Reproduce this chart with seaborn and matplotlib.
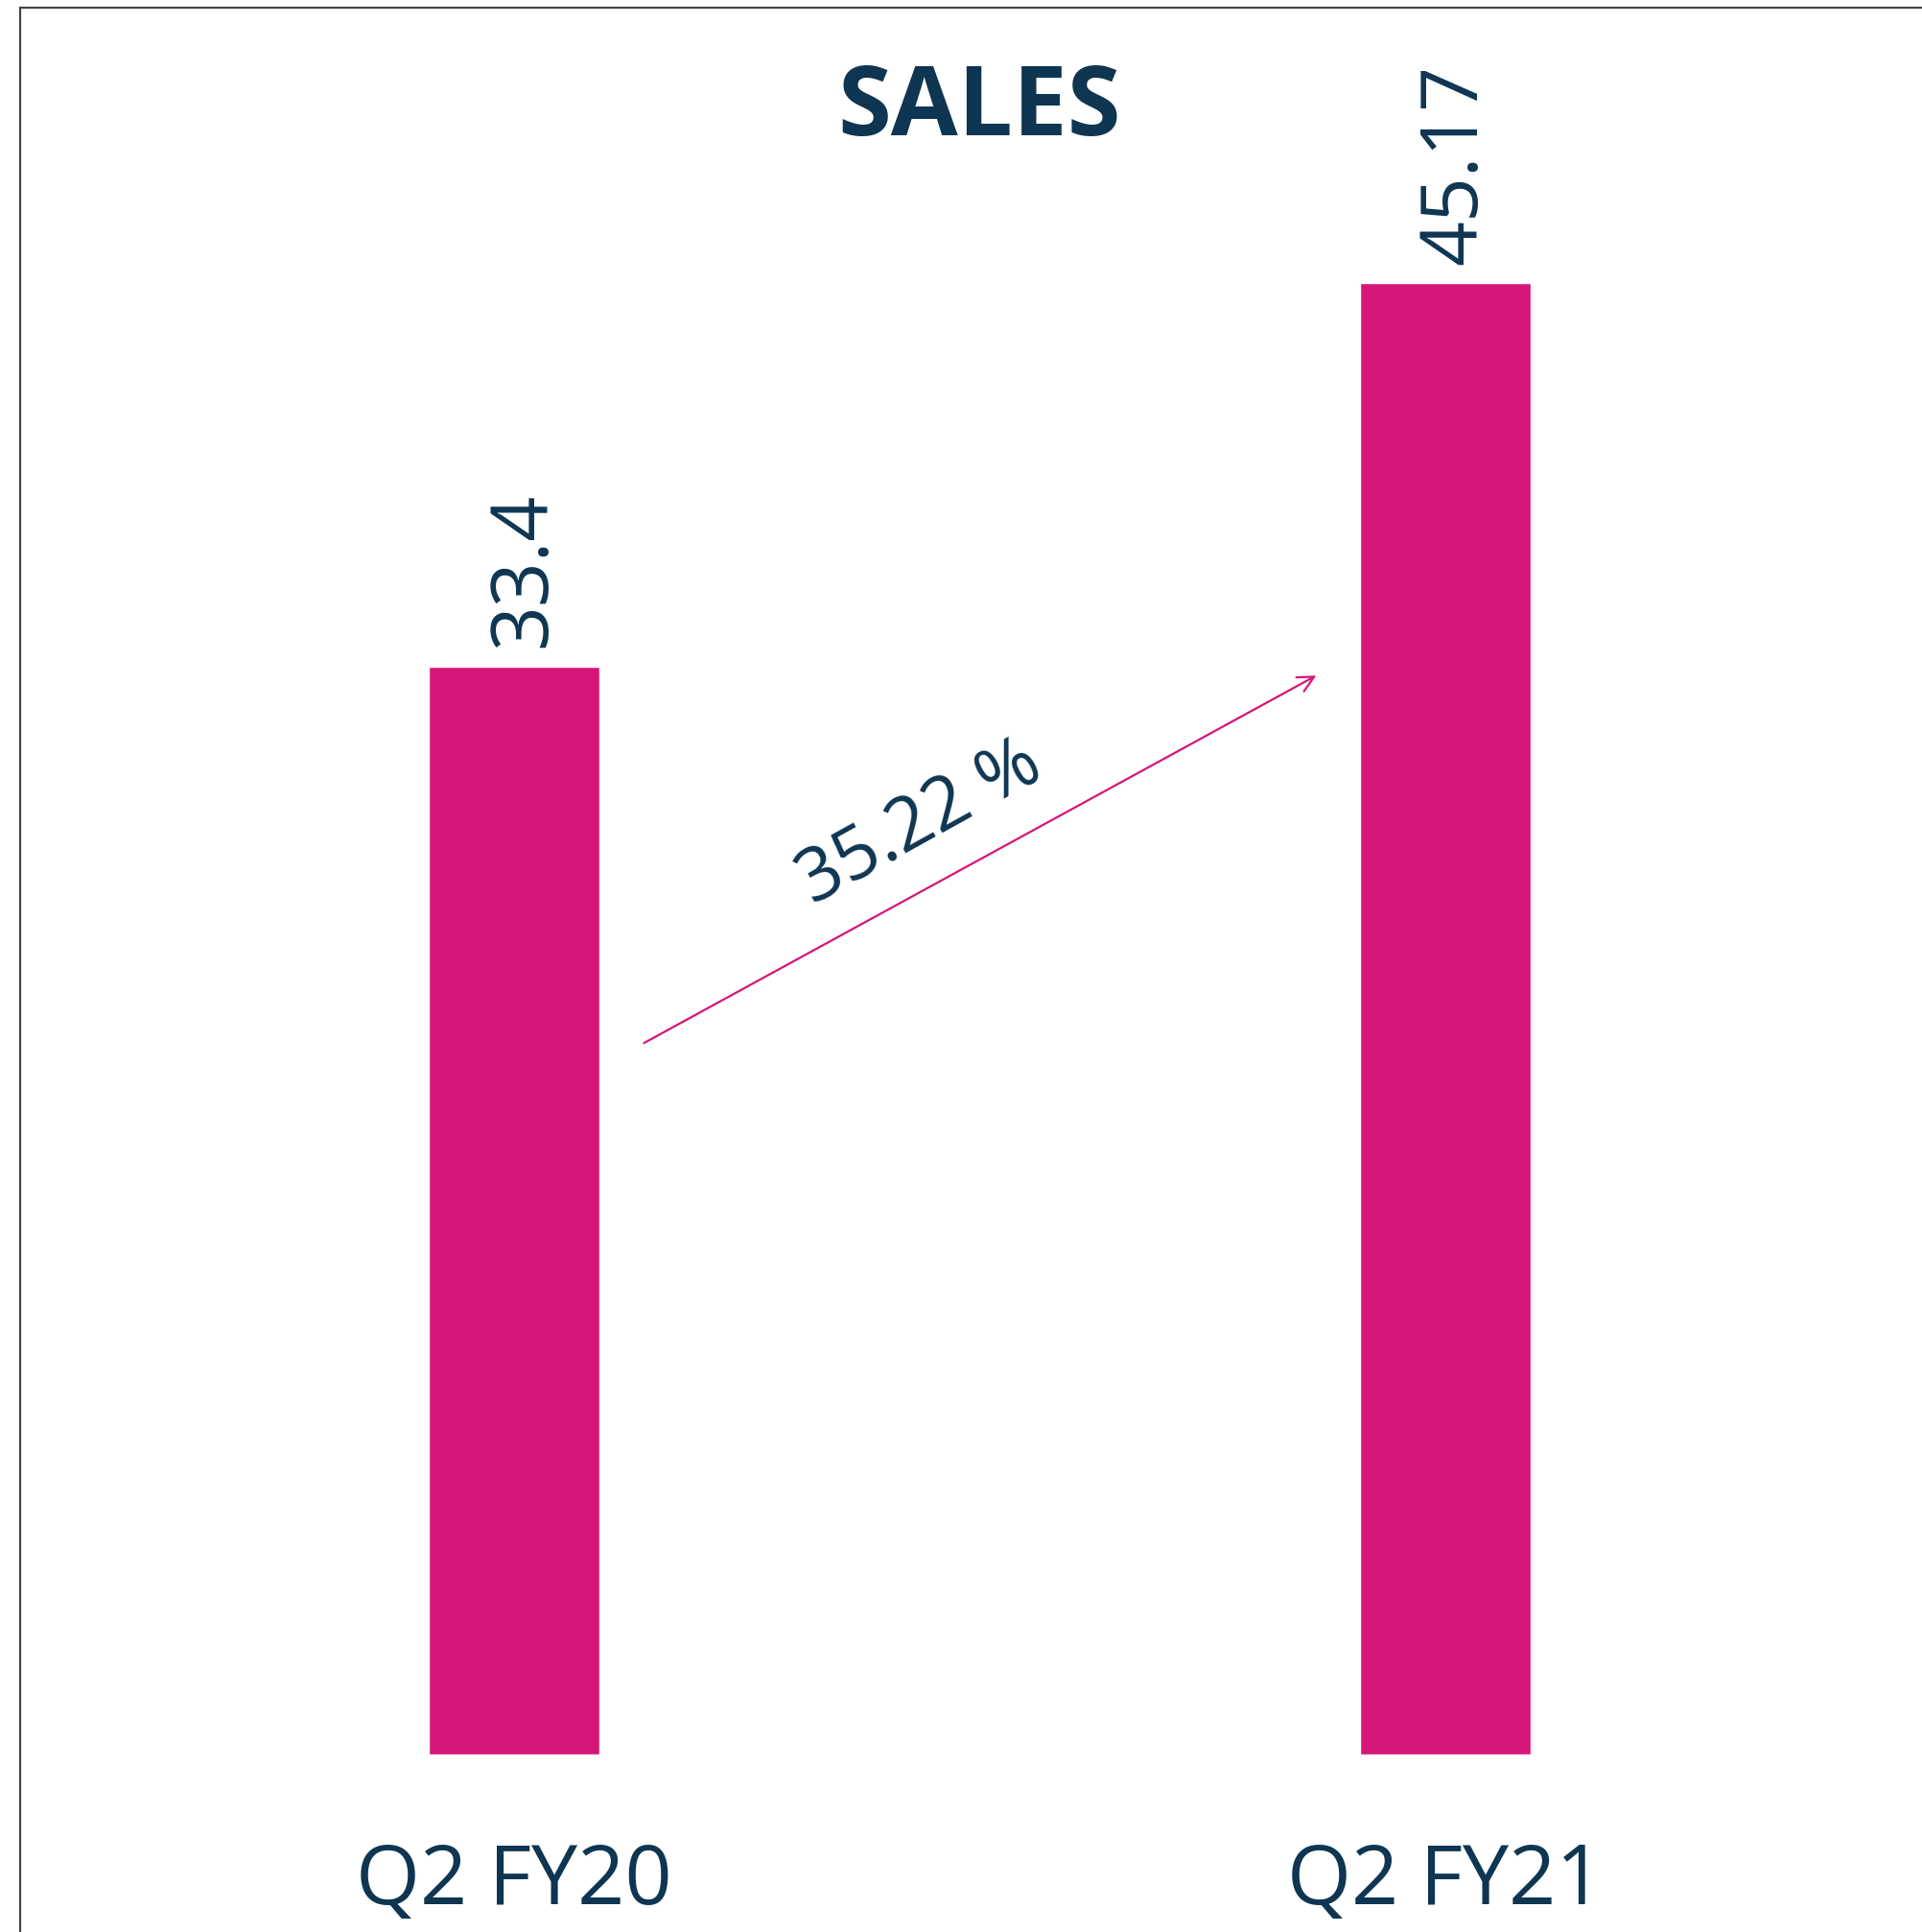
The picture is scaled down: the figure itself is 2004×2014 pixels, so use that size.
import matplotlib
matplotlib.use('Agg')
import matplotlib.pyplot as plt
from matplotlib.patches import Rectangle
import seaborn as sns

# 数据
quarters = ['Q2 FY20', 'Q2 FY21']
sales = [33.4, 45.17]
value_labels = ['33.4', '45.17']
growth_label = '35.22 %'

bar_color = '#D51677'
text_color = '#0E3551'

sns.set_theme(style='white')
plt.rcParams['font.family'] = ['Open Sans', 'DejaVu Sans']

fig = plt.figure(figsize=(20.04, 20.14), dpi=100)
ax = fig.add_axes([0.0, 0.0919, 1.0, 0.9081])

sns.barplot(x=quarters, y=sales, color=bar_color, width=0.184,
            saturation=1, ax=ax)

ax.set_xlim(-0.552, 1.512)
ax.set_ylim(0, 53.86)

# 数值标签（竖排）
labels = ax.bar_label(ax.containers[0], labels=value_labels, rotation=90,
                      padding=14, fontsize=59, color=text_color)
for t in labels:
    t.xyann = (8, 14)

# 增长箭头
ax.annotate('', xy=(0.864, 33.16), xytext=(0.137, 21.8),
            arrowprops=dict(arrowstyle='->', color=bar_color, lw=1.6,
                            mutation_scale=30))
ax.text(0.436, 28.6, growth_label, rotation=29, ha='center', va='center',
        fontsize=55, color=text_color, rotation_mode='anchor')

# 坐标轴样式
ax.set_xlabel('')
ax.set_ylabel('')
ax.set_yticks([])
ax.tick_params(axis='x', length=0, pad=65, labelsize=62, labelcolor=text_color)
for s in ax.spines.values():
    s.set_visible(False)

# 标题
fig.text(0.5095, 1 - 114 / 2014, 'SALES', ha='center', va='center',
         fontsize=73, fontweight='bold', color=text_color)

# 外框
fig.patches.append(Rectangle((21 / 2004, -0.1), 1.2, 1.1 - 8 / 2014,
                             transform=fig.transFigure, fill=False,
                             edgecolor='#444444', lw=1.6, clip_on=False))

fig.savefig('out.png', dpi=100)
plt.close(fig)
